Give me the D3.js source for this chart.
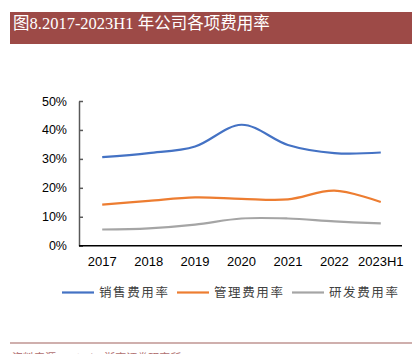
<!DOCTYPE html>
<html><head><meta charset="utf-8">
<script src="https://cdn.jsdelivr.net/npm/d3@7"></script>
<style>body{margin:0;background:#fff}svg{display:block}</style>
</head><body>
<script>
const categories = ["2017","2018","2019","2020","2021","2022","2023H1"];
const seriesNames = ["销售费用率","管理费用率","研发费用率"];
const sales = [30.6, 32.0, 34.3, 41.8, 34.8, 32.0, 32.2];
const admin = [14.2, 15.5, 16.7, 16.2, 16.0, 19.0, 15.1];
const rnd   = [5.6, 6.0, 7.3, 9.4, 9.4, 8.4, 7.7];
const yTicks = [0,10,20,30,40,50];
const colors = ["#4472C4","#ED7D31","#A5A5A5"];
const title = "图8.2017-2023H1 年公司各项费用率";
const source = "资料来源：Wind，浙商证券研究所";

const W=419,H=354;
const svg=d3.select("body").append("svg").attr("width",W).attr("height",H);

// title bar
svg.append("rect").attr("x",10).attr("y",12).attr("width",402).attr("height",32).attr("fill","#9D4A47");
svg.append("text").attr("x",13).attr("y",29).attr("fill","#fff")
  .attr("font-family","'Liberation Serif','Noto Sans CJK SC',serif").attr("font-size",16.5)
  .text(title);

const x=d3.scaleBand().domain(categories).range([79,404]);
const y=d3.scaleLinear().domain([0,50]).range([245.7,101]);

// y axis
const ya=svg.append("g").attr("transform","translate(79,0)")
  .call(d3.axisLeft(y).tickValues(yTicks).tickFormat(d=>d+"%").tickSize(-4).tickSizeOuter(0).tickPadding(12));
ya.select(".domain").attr("stroke","#595959").attr("stroke-width",1.5);
ya.selectAll(".tick line").attr("stroke","#595959").attr("stroke-width",1.5);
ya.selectAll("text").attr("font-family","'Liberation Sans',Arial,sans-serif").attr("font-size",12.5).attr("fill","#000");

// x axis
const xa=svg.append("g").attr("transform","translate(0,245.7)")
  .call(d3.axisBottom(x).tickSize(0).tickPadding(11));
xa.select(".domain").attr("stroke","#000").attr("stroke-width",1.5).attr("d","M79,0H402");
xa.selectAll("text").attr("font-family","'Liberation Sans',Arial,sans-serif").attr("font-size",13).attr("fill","#000");

const line=d3.line().x((d,i)=>x(categories[i])+x.bandwidth()/2).y(d=>y(d)).curve(d3.curveCardinal.tension(0));
[sales,admin,rnd].forEach((s,i)=>{
  svg.append("path").attr("d",line(s)).attr("fill","none").attr("stroke",colors[i]).attr("stroke-width",2.2);
});

// legend
const lx=[62,177,292];
seriesNames.forEach((n,i)=>{
  svg.append("line").attr("x1",lx[i]).attr("x2",lx[i]+32).attr("y1",292.5).attr("y2",292.5).attr("stroke",colors[i]).attr("stroke-width",2.2);
  svg.append("text").attr("x",lx[i]+37).attr("y",297).attr("fill","#404040")
    .attr("font-family","'Noto Sans CJK SC',sans-serif").attr("font-size",12.5).attr("letter-spacing",1.6).text(n);
});

// bottom rule and source
svg.append("line").attr("x1",10).attr("x2",412).attr("y1",343).attr("y2",343).attr("stroke","#A0605C").attr("stroke-width",1.2);
svg.append("text").attr("x",12).attr("y",362).attr("fill","#B07070")
  .attr("font-family","'Noto Sans CJK SC',sans-serif").attr("font-size",11).text(source);
</script>
</body></html>
